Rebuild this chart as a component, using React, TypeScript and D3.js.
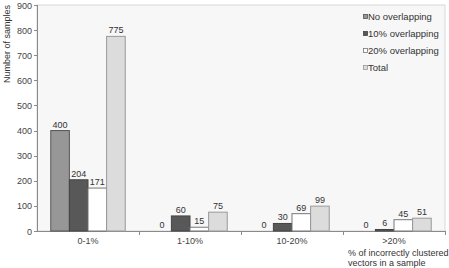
import * as d3 from 'd3';

const categories = ['0-1%', '1-10%', '10-20%', '>20%'];
const seriesNames = ['No overlapping', '10% overlapping', '20% overlapping', 'Total'];
const noOverlapping = [400, 0, 0, 0];
const overlapping10 = [204, 60, 30, 6];
const overlapping20 = [171, 15, 69, 45];
const totals = [775, 75, 99, 51];
const yTicks = [0, 100, 200, 300, 400, 500, 600, 700, 800, 900];

const fills = ['#979797', '#585858', '#ffffff', '#dcdcdc'];
const strokes = ['#555', '#444', '#777', '#999'];

const W = 449;
const H = 268;
const left = 37;
const right = 445;
const top = 5;
const bottom = 231;
const font = 'Liberation Sans, Arial, sans-serif';

export default function App() {
  const series = [noOverlapping, overlapping10, overlapping20, totals];

  const x = d3.scaleBand<string>().domain(categories).range([left, right]).paddingInner(0).paddingOuter(0);
  const inner = d3.scaleBand<number>().domain([0, 1, 2, 3]).range([0, x.bandwidth() * 0.73]);
  const groupOffset = (x.bandwidth() - inner.range()[1]) / 2;
  const y = d3.scaleLinear().domain([0, 900]).range([bottom, top]);

  return (
    <div style={{ position: 'absolute', left: 0, top: 0 }}>
      <svg width={W} height={H} style={{ display: 'block', fontFamily: font }}>
        <rect x={0} y={0} width={W} height={H} fill="#fff" />
        <rect x={left} y={top} width={right - left} height={bottom - top} fill="#f7f7f7" stroke="#d8d8d8" />
        <line x1={left} x2={right} y1={bottom + 0.5} y2={bottom + 0.5} stroke="#8a8a8a" />
        <line x1={left + 0.5} x2={left + 0.5} y1={top} y2={bottom} stroke="#8a8a8a" />

        {yTicks.map(t => (
          <g key={t}>
            <line x1={left - 3} x2={left} y1={Math.round(y(t)) + 0.5} y2={Math.round(y(t)) + 0.5} stroke="#8a8a8a" />
            <text x={left - 5} y={y(t) + 3.5} textAnchor="end" fontSize={9} fill="#444">{t}</text>
          </g>
        ))}

        {categories.map((c, i) => (
          <g key={c}>
            <line x1={Math.round((x(c) as number) + x.bandwidth()) + 0.5} x2={Math.round((x(c) as number) + x.bandwidth()) + 0.5} y1={bottom} y2={bottom + 4} stroke="#8a8a8a" />
            <text x={(x(c) as number) + x.bandwidth() / 2} y={bottom + 13} textAnchor="middle" fontSize={9} fill="#444">{c}</text>
          </g>
        ))}

        {series.map((vals, s) =>
          vals.map((v, i) => {
            const bx = (x(categories[i]) as number) + groupOffset + (inner(s) as number);
            const by = y(v);
            return (
              <g key={`${s}-${i}`}>
                {v > 0 && (
                  <rect x={bx} y={by} width={inner.bandwidth()} height={bottom - by} fill={fills[s]} stroke={strokes[s]} strokeWidth={1} />
                )}
                <text x={bx + inner.bandwidth() / 2} y={by - 3} textAnchor="middle" fontSize={9} fill="#333">{v}</text>
              </g>
            );
          })
        )}

        {seriesNames.map((n, s) => (
          <g key={n} transform={`translate(363, ${17 + s * 17})`}>
            <rect x={0.5} y={-2.5} width={4} height={4} fill={fills[s]} stroke={strokes[s]} strokeWidth={0.8} />
            <text x={5} y={0.5} dominantBaseline="middle" fontSize={9.5} fill="#333">{n}</text>
          </g>
        ))}

        <text transform={`translate(10, ${top}) rotate(-90)`} textAnchor="end" fontSize={9} fill="#333">Number of samples</text>
        <text x={348} y={256} fontSize={9} fill="#333">% of incorrectly clustered</text>
        <text x={348} y={266} fontSize={9} fill="#333">vectors in a sample</text>
      </svg>
    </div>
  );
}
